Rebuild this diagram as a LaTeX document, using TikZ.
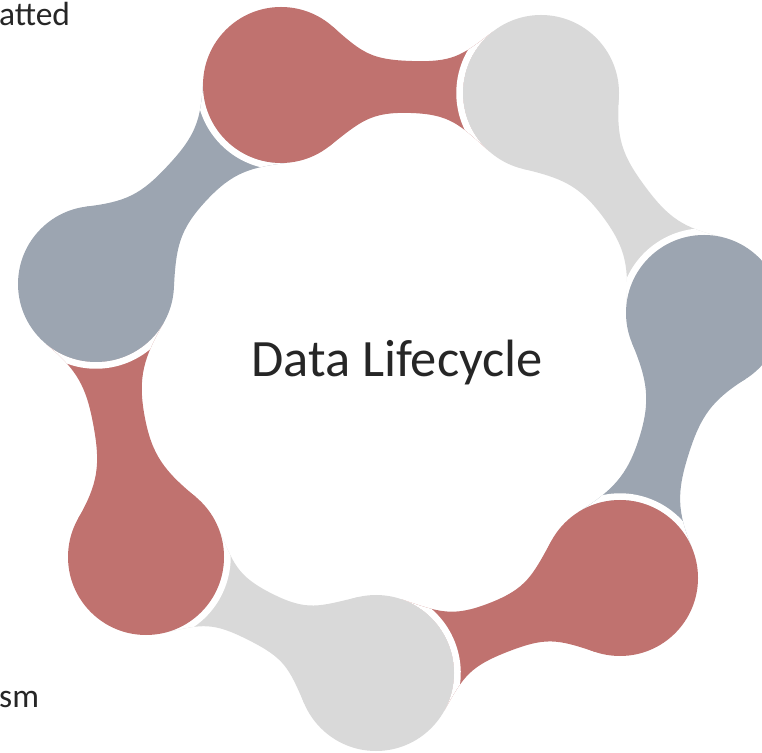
\documentclass[tikz,border=0pt]{standalone}
\usepackage{fontspec}
\setmainfont{Carlito}
\definecolor{cred}{HTML}{C0726F}
\definecolor{cgray}{HTML}{D9D9D9}
\definecolor{cblue}{HTML}{9CA5B1}
\definecolor{ctext}{HTML}{262626}
\newcommand{\tailpath}[1]{(0,0) -- (50:70) -- (50:78) .. controls +(-40:40) and +(-40,0) .. ({#1/2},28) .. controls +(40,0) and +(-140:40) .. ({#1-50.1},59.8) arc[start angle=130,end angle=230,radius=78] .. controls +(140:40) and +(40,0) .. ({#1/2},-24) .. controls +(-40,0) and +(40:40) .. (-50:78) -- (-50:70) -- cycle}
\newcommand{\blobtail}[4]{\begin{scope}[shift={#1},rotate=#2]\fill[#4] \tailpath{#3};\end{scope}}
\newcommand{\blobgap}[3]{\begin{scope}[shift={#1},rotate=#2]\clip \tailpath{#3};\fill[white] (#3,0) circle[radius=84.7];\end{scope}}
\begin{document}
\begin{tikzpicture}[x=1pt,y=1pt,
  blob/.style={circle,minimum size=156pt,inner sep=0pt,draw=none},
  cut/.style={text=ctext,font=\fontsize{33.5}{40}\selectfont,inner sep=0pt}]
\clip (0,0) rectangle (762,752);
\coordinate (c1) at (281,667);
\coordinate (c2) at (541,659);
\coordinate (c3) at (704,439);
\coordinate (c4) at (620,174);
\coordinate (c5) at (376,79);
\coordinate (c6) at (146,195);
\coordinate (c7) at (96,468);
% tails
\blobtail{(c1)}{-1.76}{260.1}{cred}
\blobtail{(c2)}{-53.46}{273.8}{cgray}
\blobtail{(c3)}{-107.59}{278.0}{cblue}
\blobtail{(c4)}{-158.73}{261.8}{cred}
\blobtail{(c5)}{153.24}{257.6}{cgray}
\blobtail{(c6)}{100.38}{277.5}{cred}
\blobtail{(c7)}{47.09}{271.7}{cblue}
% white gaps where each tail meets the next circle
\blobgap{(c1)}{-1.76}{260.1}
\blobgap{(c2)}{-53.46}{273.8}
\blobgap{(c3)}{-107.59}{278.0}
\blobgap{(c4)}{-158.73}{261.8}
\blobgap{(c5)}{153.24}{257.6}
\blobgap{(c6)}{100.38}{277.5}
\blobgap{(c7)}{47.09}{271.7}
% circles
\node[blob,fill=cred]  (n1) at (c1) {};
\node[blob,fill=cgray] (n2) at (c2) {};
\node[blob,fill=cblue] (n3) at (c3) {};
\node[blob,fill=cred]  (n4) at (c4) {};
\node[blob,fill=cgray] (n5) at (c5) {};
\node[blob,fill=cred]  (n6) at (c6) {};
\node[blob,fill=cblue] (n7) at (c7) {};
% texts
\node[text=ctext,font=\fontsize{52.5}{60}\selectfont,inner sep=0pt,anchor=base] (title) at (397,375) {Data Lifecycle};
\node[cut,anchor=base west] (t1) at (-1,726) {atted};
\node[cut,anchor=base west] (t2) at (-1,45) {sm};
\end{tikzpicture}
\end{document}
